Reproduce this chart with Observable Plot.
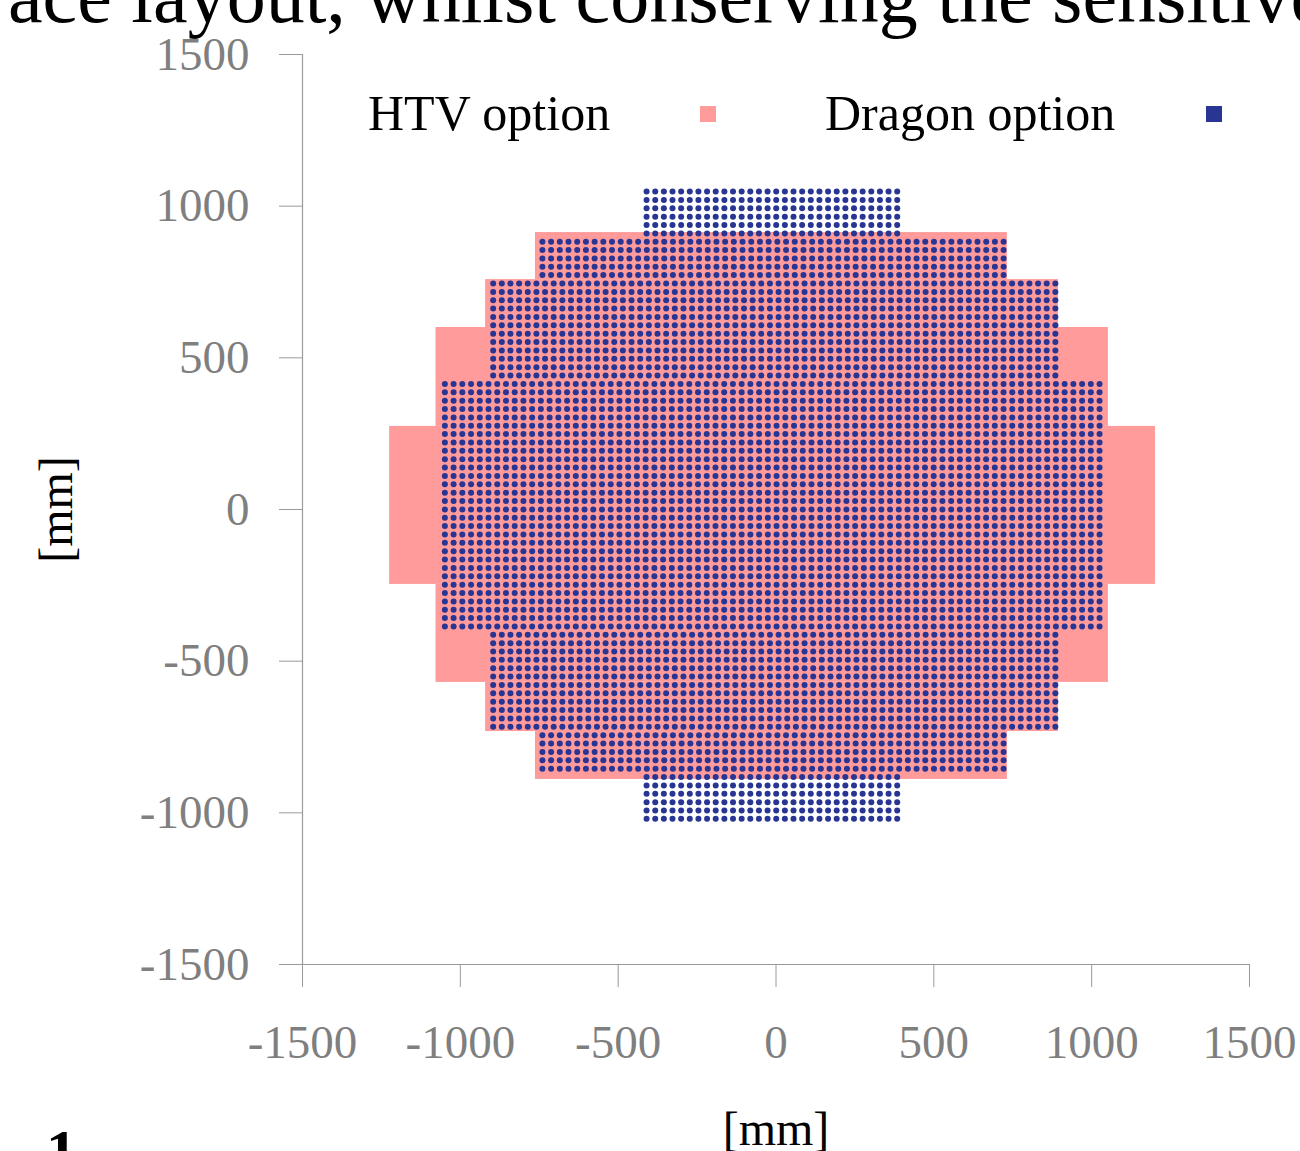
<!DOCTYPE html>
<html>
<head>
<meta charset="utf-8">
<script src="https://cdn.jsdelivr.net/npm/d3@7"></script>
<script src="https://cdn.jsdelivr.net/npm/@observablehq/plot@0.6"></script>
<style>
  html, body { margin: 0; padding: 0; background: #fff; overflow: hidden; }
  #wrap { position: relative; width: 1300px; height: 1151px; overflow: hidden; background: #fff; }
  #chart { position: absolute; left: 0; top: 0; }
  .ov { position: absolute; font-family: "Liberation Serif", "Times New Roman", serif; white-space: nowrap; color: #000; }
  .sq { position: absolute; width: 16px; height: 16px; }
</style>
</head>
<body>
<div id="wrap">
  <div id="chart"></div>
  <div class="ov" style="left:8px; top:-43px; font-size:78px; line-height:78px;">ace layout, whilst conserving the sensitive</div>
  <div class="ov" style="left:368px; top:88px; font-size:50px; line-height:50px;">HTV option</div>
  <div class="sq" style="left:700px; top:106px; background:#FF9B9B;"></div>
  <div class="ov" style="left:825px; top:88px; font-size:50px; line-height:50px;">Dragon option</div>
  <div class="sq" style="left:1206px; top:106px; background:#283593;"></div>
  <div class="ov" style="left:46px; top:1120px; font-size:62px; line-height:62px; font-weight:bold;">1</div>
</div>
<script>
// ---- Data (mm) ----
// HTV option: stepped bands of the sensitive area
const htvTop    = [913, 758, 600, 274, -247, -570, -732];
const htvBottom = [758, 600, 274, -247, -570, -732, -890];
const htvLeft   = [-762, -920, -1077, -1224, -1077, -920, -762];
const htvRight  = [733, 895, 1053, 1202, 1053, 895, 733];

// Dragon option: pixel grid, described band by band
const dragonPitchY = 27.575;
const dragonRowStart = [1048, 883, 745, 414, -413, -744, -882];
const dragonRowCount = [6, 5, 12, 30, 12, 5, 6];
const dragonColStart = [-410, -740, -896, -1049, -896, -740, -410];
const dragonColEnd   = [384, 721, 885, 1025, 885, 721, 384];
const dragonColCount = [30, 54, 66, 76, 66, 54, 30];

const xTicks = [-1500, -1000, -500, 0, 500, 1000, 1500];
const yTicks = [-1500, -1000, -500, 0, 500, 1000, 1500];
const axisTitle = "[mm]";

// ---- Build tables ----
const htv = htvTop.map((t, i) => ({y1: htvBottom[i], y2: t, x1: htvLeft[i], x2: htvRight[i]}));
const dragon = [];
dragonRowStart.forEach((y0, b) => {
  const n = dragonColCount[b];
  const step = (dragonColEnd[b] - dragonColStart[b]) / (n - 1);
  for (let r = 0; r < dragonRowCount[b]; r++) {
    for (let c = 0; c < n; c++) {
      dragon.push({x: dragonColStart[b] + c * step, y: y0 - r * dragonPitchY});
    }
  }
});

const fmt = d => String(d);

const chart = Plot.plot({
  width: 1300,
  height: 1151,
  marginLeft: 302,
  marginRight: 51,
  marginTop: 54,
  marginBottom: 187,
  style: {fontFamily: "'Liberation Serif', 'Times New Roman', serif", background: "white", overflow: "visible"},
  x: {domain: [-1500, 1500]},
  y: {domain: [-1500, 1500]},
  marks: [
    Plot.rect(htv, {x1: "x1", x2: "x2", y1: "y1", y2: "y2", fill: "#FF9B9B"}),
    Plot.dot(dragon, {x: "x", y: "y", r: 3, fill: "#283593", stroke: null}),
    Plot.ruleX([-1500], {stroke: "#9a9a9a", strokeWidth: 1.2}),
    Plot.ruleY([-1500], {stroke: "#9a9a9a", strokeWidth: 1.2}),
    Plot.axisX({ticks: xTicks, tickSize: 23, tickPadding: 37, tickFormat: fmt, stroke: "#9a9a9a", fill: "#7f7f7f", fontSize: 47, label: null}),
    Plot.axisY({ticks: yTicks, tickSize: 23, tickPadding: 30, tickFormat: fmt, stroke: "#9a9a9a", fill: "#7f7f7f", fontSize: 47, label: null}),
    Plot.text([axisTitle], {text: d => d, frameAnchor: "bottom", lineAnchor: "middle", textAnchor: "middle", dy: 165, fontSize: 48, fill: "black"}),
    Plot.text([axisTitle], {text: d => d, frameAnchor: "left", lineAnchor: "middle", textAnchor: "middle", rotate: -90, dx: -246, fontSize: 48, fill: "black"})
  ]
});
document.getElementById("chart").appendChild(chart);
</script>
</body>
</html>
